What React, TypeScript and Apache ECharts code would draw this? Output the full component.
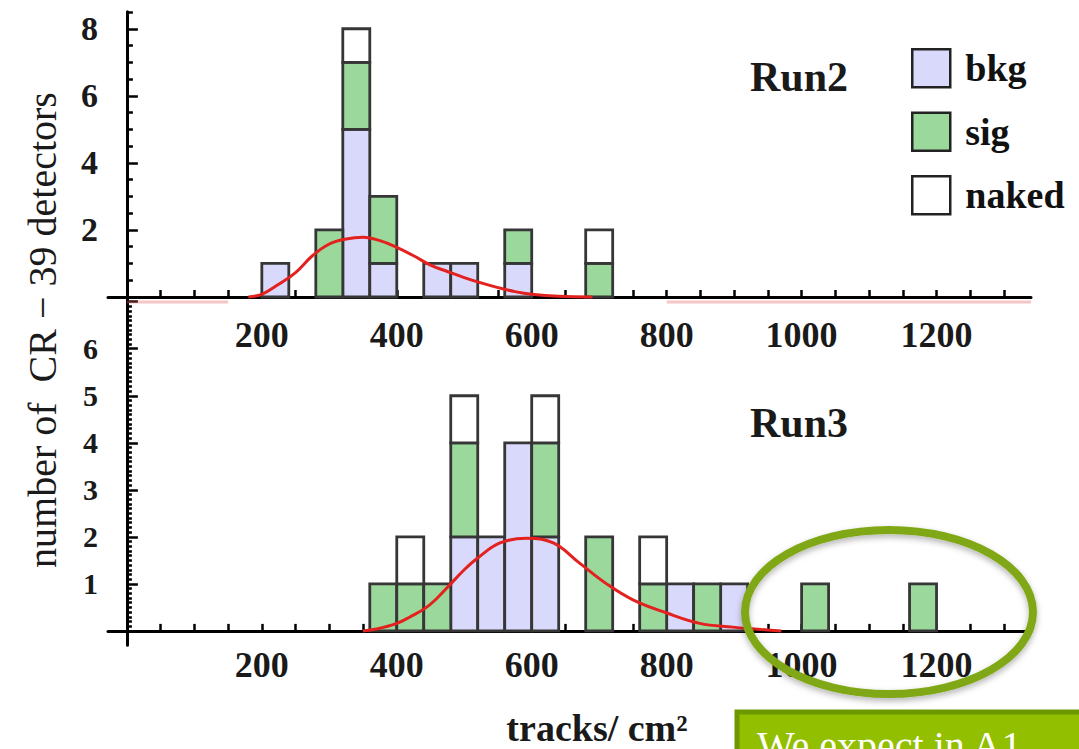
import React, { useEffect, useRef } from "react";
import * as echarts from "echarts";

// ---------- data ----------
const BIN_WIDTH = 40;

const run2Bins = [200, 280, 320, 360, 440, 480, 560, 680];
const run2Bkg = [1, 0, 5, 1, 1, 1, 1, 0];
const run2Sig = [0, 2, 2, 2, 0, 0, 1, 1];
const run2Naked = [0, 0, 1, 0, 0, 0, 0, 1];

const run3Bins = [360, 400, 440, 480, 520, 560, 600, 680, 760, 800, 840, 880, 1000, 1160];
const run3Bkg = [0, 0, 0, 2, 2, 4, 2, 0, 0, 1, 0, 1, 0, 0];
const run3Sig = [1, 1, 1, 2, 0, 0, 2, 2, 1, 0, 1, 0, 1, 1];
const run3Naked = [0, 1, 0, 1, 0, 0, 1, 0, 1, 0, 0, 0, 0, 0];

const run2Fit: number[][] = [
  [180, 0], [200, 0.08], [225, 0.38], [250, 0.73], [275, 1.23], [300, 1.58],
  [325, 1.73], [350, 1.78], [375, 1.68], [400, 1.48], [425, 1.23], [450, 0.95],
  [475, 0.76], [500, 0.58], [525, 0.42], [550, 0.28], [575, 0.16], [600, 0.08],
  [640, 0.02], [690, 0],
];
const run2TailLeft: number[][] = [[0, -0.15], [150, -0.15]];
const run2TailRight: number[][] = [[800, -0.15], [1340, -0.15]];

const run3Fit: number[][] = [
  [350, 0], [370, 0.04], [400, 0.16], [420, 0.3], [444, 0.5], [460, 0.7],
  [480, 1.0], [500, 1.3], [520, 1.55], [553, 1.87], [592, 1.97], [632, 1.87],
  [671, 1.44], [711, 1.0], [750, 0.66], [800, 0.38], [849, 0.16], [898, 0.08],
  [940, 0.03], [970, 0],
];

const xTickLabels = [200, 400, 600, 800, 1000, 1200];
const xTicks = [0, 50, 100, 150, 200, 250, 300, 350, 400, 450, 500, 550, 600, 650,
  700, 750, 800, 850, 900, 950, 1000, 1050, 1100, 1150, 1200, 1250, 1300];
const run2YLabels = [2, 4, 6, 8];
const run2YMajor = [0, 2, 4, 6, 8];
const run2YMinor = [0.5, 1, 1.5, 2.5, 3, 3.5, 4.5, 5, 5.5, 6.5, 7, 7.5, 8.5];
const run3YLabels = [1, 2, 3, 4, 5, 6];
const run3YMajor = [0, 1, 2, 3, 4, 5, 6, 7];
const run3YMinor: number[] = [];
for (let u = 0; u < 7; u++) {
  for (let k = 1; k < 10; k++) run3YMinor.push(u + k / 10);
}

// ---------- styles ----------
const FONT = "'Liberation Serif', 'DejaVu Serif', serif";
const COLORS: Record<string, string> = { bkg: "#d9d9fb", sig: "#9bd89b", naked: "#ffffff" };
const EDGE = "#363636";

function stackSegments(bins: number[], layers: number[][]) {
  return layers.map((layer, li) =>
    bins
      .map((b, i) => {
        let base = 0;
        for (let j = 0; j < li; j++) base += layers[j][i];
        return [b, b + BIN_WIDTH, base, base + layer[i]];
      })
      .filter((d) => d[3] > d[2])
  );
}

function histSeries(name: string, data: number[][], xi: number, yi: number) {
  return {
    type: "custom",
    name,
    xAxisIndex: xi,
    yAxisIndex: yi,
    z: 2,
    itemStyle: { color: COLORS[name], borderColor: EDGE, borderWidth: 2.5 },
    encode: { x: [0, 1], y: [2, 3] },
    data,
    renderItem: (params: any, api: any) => {
      const p0 = api.coord([api.value(0), api.value(2)]);
      const p1 = api.coord([api.value(1), api.value(3)]);
      return {
        type: "rect",
        shape: { x: p0[0], y: p1[1], width: p1[0] - p0[0], height: p0[1] - p1[1] },
        style: { fill: COLORS[name], stroke: EDGE, lineWidth: 2.8 },
      };
    },
  };
}

function xAxisCfg(gridIndex: number, onZeroIdx: number, margin: number) {
  return {
    type: "value",
    gridIndex,
    min: -28,
    max: 1340,
    axisLine: { show: true, onZero: true, onZeroAxisIndex: onZeroIdx, lineStyle: { color: "#000", width: 3 } },
    axisTick: { show: true, inside: true, length: 7, customValues: xTicks, lineStyle: { color: "#000", width: 2.5 } },
    axisLabel: {
      show: true,
      customValues: xTickLabels,
      formatter: (v: number) => String(v),
      margin,
      fontSize: 36,
      fontWeight: "bold",
      fontFamily: FONT,
      color: "#1a1a1a",
    },
    splitLine: { show: false },
  };
}

function yAxisCfg(gridIndex: number, onZeroIdx: number, min: number, max: number, ticks: number[], len: number, labels: number[] | null, fontSize: number) {
  return {
    type: "value",
    gridIndex,
    min,
    max,
    position: "left",
    axisLine: { show: true, onZero: true, onZeroAxisIndex: onZeroIdx, lineStyle: { color: "#000", width: 3 } },
    axisTick: { show: true, inside: true, length: len, customValues: ticks, lineStyle: { color: "#000", width: 2.5 } },
    axisLabel: labels
      ? { show: true, customValues: labels, formatter: (v: number) => String(v), margin: 10, fontSize, fontWeight: "bold", fontFamily: FONT, color: "#1a1a1a" }
      : { show: false },
    splitLine: { show: false },
  };
}

export default function App() {
  const ref = useRef<HTMLDivElement>(null);

  useEffect(() => {
    if (!ref.current) return;
    const chart = echarts.init(ref.current, undefined, { renderer: "svg" });

    const [r2b, r2s, r2n] = stackSegments(run2Bins, [run2Bkg, run2Sig, run2Naked]);
    const [r3b, r3s, r3n] = stackSegments(run3Bins, [run3Bkg, run3Sig, run3Naked]);

    const fitLine = (data: number[][], xi: number, yi: number, color: string) => ({
      type: "line",
      xAxisIndex: xi,
      yAxisIndex: yi,
      data,
      smooth: 0.4,
      symbol: "none",
      clip: false,
      z: 4,
      lineStyle: { color, width: 3 },
      silent: true,
    });

    chart.setOption({
      animation: false,
      backgroundColor: "#ffffff",
      grid: [
        { left: 108, top: 12, width: 923, height: 285, containLabel: false },
        { left: 108, top: 297, width: 923, height: 348, containLabel: false },
      ],
      xAxis: [xAxisCfg(0, 0, 20), xAxisCfg(1, 2, 2)],
      yAxis: [
        yAxisCfg(0, 0, 0, 8.5, run2YMajor, 11, run2YLabels, 34),
        yAxisCfg(0, 0, 0, 8.5, run2YMinor, 6, null, 34),
        yAxisCfg(1, 1, -0.3, 7.1, run3YMajor, 11, run3YLabels, 30),
        yAxisCfg(1, 1, -0.3, 7.1, run3YMinor, 5, null, 30),
      ],
      legend: {
        orient: "vertical",
        left: 906,
        top: 43,
        itemWidth: 38,
        itemHeight: 38,
        itemGap: 23,
        selectedMode: false,
        icon: "rect",
        itemStyle: { borderColor: "#222", borderWidth: 2.5 },
        textStyle: { fontSize: 38, fontFamily: FONT, fontWeight: "bold", color: "#111", padding: [0, 0, 0, 10] },
        data: ["bkg", "sig", "naked"],
      },
      series: [
        histSeries("bkg", r2b, 0, 0),
        histSeries("sig", r2s, 0, 0),
        histSeries("naked", r2n, 0, 0),
        histSeries("bkg", r3b, 1, 2),
        histSeries("sig", r3s, 1, 2),
        histSeries("naked", r3n, 1, 2),
        fitLine(run2Fit, 0, 0, "#e3211f"),
        fitLine(run2TailLeft, 0, 0, "rgba(230,90,90,0.35)"),
        fitLine(run2TailRight, 0, 0, "rgba(230,90,90,0.35)"),
        fitLine(run3Fit, 1, 2, "#e3211f"),
      ],
      graphic: [
        {
          type: "text",
          left: 750,
          top: 56,
          style: { text: "Run2", fontSize: 42, fontWeight: "bold", fontFamily: FONT, fill: "#1a1a1a" },
        },
        {
          type: "text",
          left: 750,
          top: 402,
          style: { text: "Run3", fontSize: 42, fontWeight: "bold", fontFamily: FONT, fill: "#1a1a1a" },
        },
        {
          type: "text",
          x: 42,
          y: 330,
          rotation: Math.PI / 2,
          style: {
            text: "number of  CR \u2212 39 detectors",
            fontSize: 40,
            fontFamily: FONT,
            fill: "#1a1a1a",
            align: "center",
            verticalAlign: "middle",
          },
        },
        {
          type: "text",
          x: 597,
          y: 728,
          style: {
            text: "tracks/ cm\u00b2",
            fontSize: 38,
            fontWeight: "bold",
            fontFamily: FONT,
            fill: "#1a1a1a",
            align: "center",
            verticalAlign: "middle",
          },
        },
        {
          type: "ellipse",
          shape: { cx: 889, cy: 612, rx: 144, ry: 82 },
          style: {
            fill: "transparent",
            stroke: "#80a816",
            lineWidth: 8,
            shadowBlur: 6,
            shadowColor: "rgba(0,0,0,0.3)",
            shadowOffsetY: 3,
          },
          z: 20,
        },
        {
          type: "rect",
          shape: { x: 737, y: 712, width: 360, height: 60 },
          style: { fill: "#92bf00", stroke: "#6e9800", lineWidth: 5 },
          z: 20,
        },
        {
          type: "text",
          x: 757,
          y: 725,
          style: { text: "We expect in A1", fontSize: 40, fontFamily: FONT, fill: "#ffffff" },
          z: 21,
        },
      ],
    });

    return () => chart.dispose();
  }, []);

  return (
    <div
      ref={ref}
      style={{ position: "absolute", left: 0, top: 0, width: 1079, height: 749, background: "#fff" }}
    />
  );
}
